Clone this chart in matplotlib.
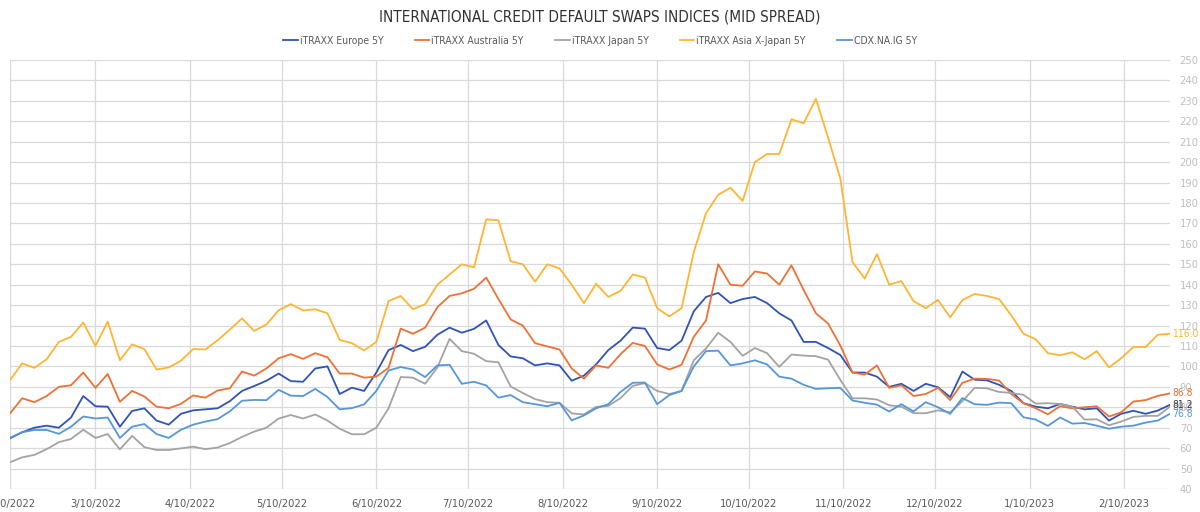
import matplotlib
matplotlib.use("Agg")
import matplotlib.pyplot as plt
import pandas as pd

plt.rcParams['font.family'] = ['DejaVu Sans']
plt.rcParams['font.stretch'] = 'condensed'

title = "INTERNATIONAL CREDIT DEFAULT SWAPS INDICES (MID SPREAD)"
names = ["iTRAXX Europe 5Y", "iTRAXX Australia 5Y", "iTRAXX Japan 5Y",
         "iTRAXX Asia X-Japan 5Y", "CDX.NA.IG 5Y"]
colors = ["#2F54B5", "#EE7136", "#A3A3A3", "#FFB533", "#5597D8"]

# sampling dates (every 4 days from 10 Feb 2022)
dates = pd.date_range("2022-02-10", periods=96, freq="4D")

europe = [64.8, 67.8, 70, 71, 70, 75, 85.5, 80.5, 80.3, 70.5, 78.2, 79.5, 73.5, 71.5, 76.8, 78.5, 79, 79.5, 83, 88, 90.4, 93, 96.5, 92.8,
          92.5, 99, 100, 86.5, 89.6, 88, 97, 108, 110.5, 107.5, 109.6, 115.5, 119, 116.5, 118.4, 122.5, 110.5, 104.9, 104, 100.5, 101.5, 100.5, 93, 95.5,
          101, 108, 112.6, 119, 118.5, 109, 108, 112.6, 127, 134, 136, 131, 133, 134, 131, 126, 122.5, 112, 112, 109, 105.6, 97, 97, 95,
          90, 91.5, 88, 91.5, 89.8, 85, 97.5, 93.5, 93.2, 91, 88, 82, 80.3, 79.5, 81.6, 80.3, 79, 79.5, 73.5, 76.8, 78.3, 76.8, 78.4, 81.2]

australia = [77, 84.4, 82.5, 85.5, 90, 90.8, 97, 89.5, 96.3, 82.7, 88, 85.3, 80.3, 79.5, 81.7, 85.8, 84.7, 88.2, 89.3, 97.5, 95.5, 99, 104, 106,
             103.7, 106.5, 104.5, 96.5, 96.5, 94.5, 95, 99.3, 118.5, 116, 119, 129, 134.5, 135.8, 138, 143.5, 133, 123, 120, 111.4, 109.8, 108.3, 99, 94,
             100.5, 99.3, 106, 111.5, 110, 101, 98.5, 100.8, 114.5, 122.5, 150, 140, 139.5, 146.5, 145.5, 140, 149.5, 137.4, 126, 121, 110.2, 97, 96, 100.5,
             89.5, 90.8, 85.5, 86.5, 89.5, 83.5, 92, 94, 93.9, 93.1, 86.5, 82, 79.5, 76.6, 80.5, 79.5, 80, 80.5, 75.5, 77.5, 82.8, 83.5, 85.6, 86.8]

japan = [53.1, 55.5, 56.7, 59.5, 62.9, 64.5, 69, 65, 66.9, 59.4, 66, 60.5, 59.1, 59.1, 59.9, 60.7, 59.5, 60.3, 62.5, 65.5, 68.1, 70, 74.5, 76.2,
         74.5, 76.5, 73.5, 69.5, 66.8, 66.8, 70, 79.5, 94.8, 94.5, 91.5, 99.5, 113.5, 107.5, 106.2, 102.6, 102, 90.2, 87, 84, 82.5, 82.2, 77, 76.5,
         80.2, 80.7, 84.5, 90.5, 91.8, 88, 86.5, 88, 103, 108.8, 116.5, 112, 105.2, 109, 106.5, 99.8, 105.8, 105.3, 105, 103.3, 93.4, 84.4, 84.4, 83.8,
         81, 80.3, 77.1, 77.1, 78.5, 77.5, 83, 89.5, 89.3, 87.5, 87, 86.1, 81.8, 82, 81.6, 80.3, 74, 74.1, 71.2, 73, 75.3, 75.8, 75.8, 80.3]

asia = [93.3, 101.5, 99.3, 103.5, 112, 114.5, 121.5, 110, 122, 103, 110.8, 108.5, 98.5, 99.5, 102.8, 108.5, 108.3, 112.8, 118, 123.5, 117.4, 120.5, 127.5, 130.5,
        127.4, 128, 126, 113, 111.4, 107.8, 112, 132, 134.5, 128, 130.5, 140, 145, 150, 148.5, 172, 171.5, 151.5, 150, 141.5, 150, 148, 140, 131,
        140.5, 134, 137, 145, 143.5, 128.5, 124.5, 128.5, 156, 175, 184, 187.5, 181, 200, 204, 204, 221, 219, 231, 212, 192, 151, 143, 155,
        140, 141.8, 132, 128.5, 132.6, 124, 132.5, 135.5, 134.5, 133, 125, 116, 113.3, 106.5, 105.5, 106.9, 103.5, 107.5, 99.5, 104, 109.5, 109.5, 115.5, 116]

cdx = [65.1, 67.8, 68.9, 68.9, 67, 70.5, 75.5, 74.5, 75, 65, 70.5, 71.8, 66.9, 65, 69, 71.5, 73, 74.2, 78, 83.2, 83.6, 83.5, 88.5, 85.7,
       85.5, 89, 85, 79, 79.6, 81.4, 88, 98, 99.7, 98.5, 94.8, 100.5, 100.8, 91.5, 92.5, 90.7, 84.7, 86, 82.5, 81.5, 80.5, 82.2, 73.6, 76,
       79.5, 81.5, 87.5, 92, 92.1, 81.5, 86, 88, 100, 107.5, 107.7, 100.5, 101.5, 103, 101, 95, 94, 91, 89, 89.3, 89.5, 83.3, 82.2, 81.3,
       77.9, 81.5, 78, 82.5, 80, 76.8, 84.5, 81.5, 81.2, 82.3, 82, 75.1, 74, 70.9, 75, 72, 72.3, 71, 69.5, 70.5, 71, 72.5, 73.5, 76.8]

tick_dates = ["2022-02-10", "2022-03-10", "2022-04-10", "2022-05-10", "2022-06-10", "2022-07-10",
              "2022-08-10", "2022-09-10", "2022-10-10", "2022-11-10", "2022-12-10", "2023-01-10", "2023-02-10"]
tick_labels = ["2/10/2022", "3/10/2022", "4/10/2022", "5/10/2022", "6/10/2022", "7/10/2022",
               "8/10/2022", "9/10/2022", "10/10/2022", "11/10/2022", "12/10/2022", "1/10/2023", "2/10/2023"]
y_ticks = list(range(40, 251, 10))

series = [europe, australia, japan, asia, cdx]

fig = plt.figure(figsize=(12, 5.12), dpi=100)
ax = fig.add_axes([10 / 1200, 1 - 489 / 512, 1160 / 1200, 429 / 512])

for name, vals, col in zip(names, series, colors):
    ax.plot(dates, vals, color=col, lw=1.3, label=name, solid_joinstyle='round')

ax.set_xlim(dates[0], dates[-1])
ax.set_ylim(40, 250)
ax.set_yticks(y_ticks)
ax.yaxis.tick_right()
ax.tick_params(axis='y', length=0, pad=7, labelsize=8, labelcolor="#BFBFBF")
ax.set_xticks(pd.to_datetime(tick_dates))
ax.set_xticklabels(tick_labels)
ax.tick_params(axis='x', length=0, pad=7, labelsize=8, labelcolor="#595959")
ax.grid(True, color="#D9D9D9", lw=0.9)
ax.set_axisbelow(True)
for s in ax.spines.values():
    s.set_visible(False)

# end-of-series value labels
label_order = [2, 0, 3, 1, 4]
for i in label_order:
    ax.annotate(f"{series[i][-1]:.1f}", xy=(dates[-1], series[i][-1]), xytext=(1.5, 0),
                textcoords="offset points", va="center", ha="left",
                fontsize=7.5, color=colors[i] if i != 0 else "#404040", annotation_clip=False)

fig.text(0.5, 1 - 17 / 512, title, ha="center", va="center", fontsize=11, color="#333333")
fig.legend(loc="center", bbox_to_anchor=(0.5, 1 - 41 / 512), ncol=5, frameon=False,
           fontsize=7.5, handlelength=1.4, handletextpad=0.2, columnspacing=3.0,
           labelcolor="#595959")

fig.savefig("out.png", dpi=100)
